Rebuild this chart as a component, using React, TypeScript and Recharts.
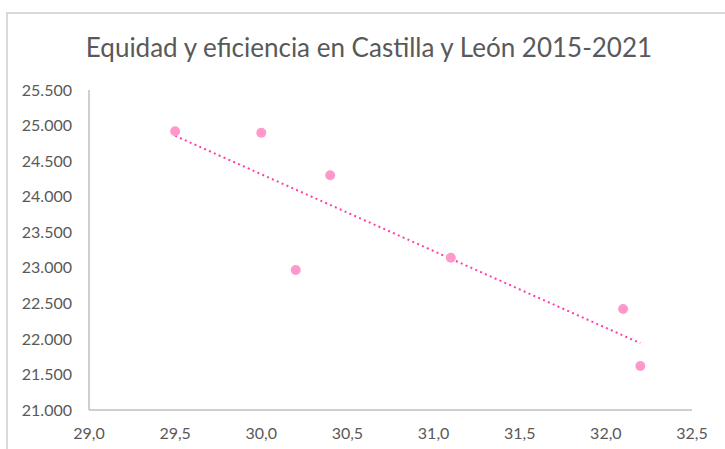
import React from 'react';
import { ScatterChart, Scatter, XAxis, YAxis, ReferenceLine } from 'recharts';

const equidad = [29.5, 30.0, 30.2, 30.4, 31.1, 32.1, 32.2];
const eficiencia = [24920, 24900, 22970, 24300, 23140, 22420, 21620];
const xTicks = [29.0, 29.5, 30.0, 30.5, 31.0, 31.5, 32.0, 32.5];
const yTicks = [21000, 21500, 22000, 22500, 23000, 23500, 24000, 24500, 25000, 25500];
const title = 'Equidad y eficiencia en Castilla y León 2015-2021';

const points = equidad.map((x, i) => ({ x, y: eficiencia[i] }));

// linear least-squares trendline (as Excel computes it)
const n = points.length;
const mx = equidad.reduce((a, b) => a + b, 0) / n;
const my = eficiencia.reduce((a, b) => a + b, 0) / n;
let sxy = 0;
let sxx = 0;
points.forEach((p) => {
  sxy += (p.x - mx) * (p.y - my);
  sxx += (p.x - mx) * (p.x - mx);
});
const slope = sxy / sxx;
const intercept = my - slope * mx;
const xMin = Math.min(...equidad);
const xMax = Math.max(...equidad);
const trend = [
  { x: xMin, y: intercept + slope * xMin },
  { x: xMax, y: intercept + slope * xMax },
];

const FONT = 'Lato, "Open Sans", sans-serif';
const fmtX = (v: number) => v.toFixed(1).replace('.', ',');
const fmtY = (v: number) => v.toLocaleString('de-DE');

export default function App() {
  return (
    <div style={{ position: 'absolute', left: 0, top: 0, width: 725, height: 449, overflow: 'hidden', background: '#fff' }}>
      <div
        style={{
          position: 'absolute',
          left: 6,
          top: 12,
          width: 740,
          height: 460,
          border: '2px solid #d9d9d9',
          boxSizing: 'border-box',
        }}
      />
      <div
        style={{
          position: 'absolute',
          left: 0,
          width: 738,
          top: 31,
          textAlign: 'center',
          fontFamily: FONT,
          fontSize: 26,
          color: '#595959',
          lineHeight: '32px',
          whiteSpace: 'nowrap',
        }}
      >
        {title}
      </div>
      <div style={{ position: 'absolute', left: 0, top: 0 }}>
        <ScatterChart width={725} height={449} margin={{ top: 90, right: 33, bottom: 9, left: 0 }}>
          <XAxis
            type="number"
            dataKey="x"
            domain={[29, 32.5]}
            ticks={xTicks}
            tickFormatter={fmtX}
            axisLine={{ stroke: '#bfbfbf', strokeWidth: 1.5 }}
            tickLine={false}
            tickSize={6}
            tickMargin={12}
            height={30}
            tick={{ fill: '#595959', fontSize: 16, fontFamily: FONT }}
            allowDataOverflow
          />
          <YAxis
            type="number"
            dataKey="y"
            domain={[21000, 25500]}
            ticks={yTicks}
            tickFormatter={fmtY}
            axisLine={{ stroke: '#bfbfbf', strokeWidth: 1.5 }}
            tickLine={false}
            tickSize={6}
            tickMargin={11}
            width={89}
            tick={{ fill: '#595959', fontSize: 16, fontFamily: FONT }}
            allowDataOverflow
          />
          <Scatter data={points} fill="#ff99cc" isAnimationActive={false} shape={(props: any) => <circle cx={props.cx} cy={props.cy} r={5} fill="#ff99cc" />} />
          <ReferenceLine
            segment={trend}
            stroke="#ff3fa4"
            strokeWidth={2}
            strokeDasharray="2 3.3"
            ifOverflow="visible"
          />
        </ScatterChart>
      </div>
    </div>
  );
}
